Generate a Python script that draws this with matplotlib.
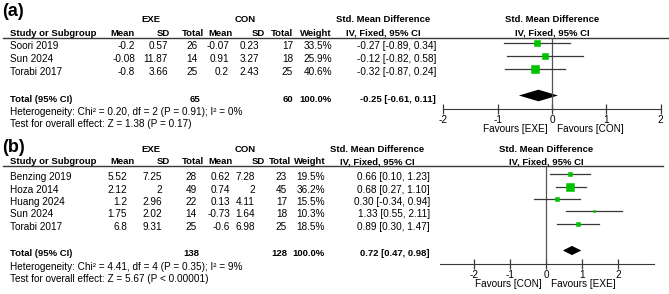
import numpy as np
import matplotlib
matplotlib.use("Agg")
import matplotlib.pyplot as plt
from matplotlib.patches import Polygon

plt.rcParams.update({"font.family": ["Liberation Sans", "DejaVu Sans"], "font.size": 7.2,
                     "axes.unicode_minus": False})

W, H = 669, 294
GREEN = "#00c400"
LINE = "#383838"
BOLD = dict(fontweight="bold", fontsize=6.8)

# ---- data: panel (a) ----
a_study = ["Soori 2019", "Sun 2024", "Torabi 2017"]
a_mean_e = ["-0.2", "-0.08", "-0.8"]
a_sd_e = ["0.57", "11.87", "3.66"]
a_n_e = [26, 14, 25]
a_mean_c = ["-0.07", "0.91", "0.2"]
a_sd_c = ["0.23", "3.27", "2.43"]
a_n_c = [17, 18, 25]
a_weight = [33.5, 25.9, 40.6]
a_smd = [-0.27, -0.12, -0.32]
a_lo = [-0.89, -0.82, -0.87]
a_hi = [0.34, 0.58, 0.24]
a_total = (65, 60, -0.25, -0.61, 0.11)
a_het = "Heterogeneity: Chi² = 0.20, df = 2 (P = 0.91); I² = 0%"
a_test = "Test for overall effect: Z = 1.38 (P = 0.17)"
a_fav = ("Favours [EXE]", "Favours [CON]")

# ---- data: panel (b) ----
b_study = ["Benzing 2019", "Hoza 2014", "Huang 2024", "Sun 2024", "Torabi 2017"]
b_mean_e = ["5.52", "2.12", "1.2", "1.75", "6.8"]
b_sd_e = ["7.25", "2", "2.96", "2.02", "9.31"]
b_n_e = [28, 49, 22, 14, 25]
b_mean_c = ["0.62", "0.74", "0.13", "-0.73", "-0.6"]
b_sd_c = ["7.28", "2", "4.11", "1.64", "6.98"]
b_n_c = [23, 45, 17, 18, 25]
b_weight = [19.5, 36.2, 15.5, 10.3, 18.5]
b_smd = [0.66, 0.68, 0.30, 1.33, 0.89]
b_lo = [0.10, 0.27, -0.34, 0.55, 0.30]
b_hi = [1.23, 1.10, 0.94, 2.11, 1.47]
b_total = (138, 128, 0.72, 0.47, 0.98)
b_het = "Heterogeneity: Chi² = 4.41, df = 4 (P = 0.35); I² = 9%"
b_test = "Test for overall effect: Z = 5.67 (P < 0.00001)"
b_fav = ("Favours [CON]", "Favours [EXE]")

fig = plt.figure(figsize=(W / 100, H / 100), dpi=100)
bg = fig.add_axes([0, 0, 1, 1])
bg.set_xlim(0, W); bg.set_ylim(H, 0); bg.axis("off")


def panel(label, top, study, me, sde, ne, mc, sdc, nc, wt, smd, lo, hi, total, het, test, fav,
          cols, hcols, zero_px, unit_px, xlim, rows, total_y, axis_y, msc, dia_h, line_right):
    y_lab, y_grp, y_hdr, y_line = top
    bg.text(2, y_lab, label, fontsize=13, fontweight="bold", va="center", ha="left")
    bg.text(151, y_grp, "EXE", ha="center", va="center", **BOLD)
    bg.text(245, y_grp, "CON", ha="center", va="center", **BOLD)
    bg.text(cols[7] - 53, y_grp, "Std. Mean Difference", ha="center", va="center", **BOLD)
    bg.text(cols[7] - 53, y_hdr, "IV, Fixed, 95% CI", ha="center", va="center", **BOLD)
    bg.text(zero_px, y_grp, "Std. Mean Difference", ha="center", va="center", **BOLD)
    bg.text(zero_px, y_hdr, "IV, Fixed, 95% CI", ha="center", va="center", **BOLD)
    bg.text(10, y_hdr, "Study or Subgroup", ha="left", va="center", **BOLD)
    for x, h in zip(hcols, ["Mean", "SD", "Total", "Mean", "SD", "Total", "Weight"]):
        bg.text(x, y_hdr, h, ha="right", va="center", **BOLD)
    bg.plot([3, line_right], [y_line, y_line], color=LINE, lw=1)

    for i, s in enumerate(study):
        y = rows[i]
        bg.text(10, y, s, ha="left", va="center")
        vals = [me[i], sde[i], str(ne[i]), mc[i], sdc[i], str(nc[i]), f"{wt[i]:.1f}%",
                f"{smd[i]:.2f} [{lo[i]:.2f}, {hi[i]:.2f}]"]
        for x, v in zip(cols, vals):
            bg.text(x, y, v, ha="right", va="center")

    n1, n2, est, tlo, thi = total
    bg.text(10, total_y, "Total (95% CI)", ha="left", va="center", **BOLD)
    bg.text(cols[2] + 2, total_y, str(n1), ha="right", va="center", **BOLD)
    bg.text(cols[5], total_y, str(n2), ha="right", va="center", **BOLD)
    bg.text(cols[6], total_y, "100.0%", ha="right", va="center", **BOLD)
    bg.text(cols[7], total_y, f"{est:.2f} [{tlo:.2f}, {thi:.2f}]", ha="right", va="center", **BOLD)
    bg.text(10, total_y + 13, het, ha="left", va="center")
    bg.text(10, total_y + 25, test, ha="left", va="center")

    # forest axes: x in SMD units, y in figure pixels
    left = zero_px + xlim[0] * unit_px
    width = (xlim[1] - xlim[0]) * unit_px
    ax = fig.add_axes([left / W, 1 - axis_y / H, width / W, (axis_y - y_line) / H])
    ax.set_xlim(*xlim); ax.set_ylim(axis_y, y_line)
    ax.patch.set_alpha(0)
    for sp in ["top", "right", "left"]:
        ax.spines[sp].set_visible(False)
    ax.spines["bottom"].set_color(LINE)
    ax.set_yticks([])
    ax.set_xticks([-2, -1, 0, 1, 2])
    ax.tick_params(axis="x", direction="inout", length=7, width=0.9, color=LINE, pad=1,
                   labelsize=7.2)
    ax.axvline(0, color="#555555", lw=0.9)
    for i in range(len(study)):
        y = rows[i] - 2.8
        ax.plot([lo[i], hi[i]], [y, y], color=LINE, lw=0.9)
        side = msc * (0.5 + 0.14 * wt[i])
        ax.plot(smd[i], y, marker="s", color=GREEN, ms=side * 0.85, mew=0.4, mec=GREEN,
                ls="none", zorder=3)
    yc = total_y - 3.5
    ax.add_patch(Polygon([(tlo, yc), (est, yc - dia_h), (thi, yc), (est, yc + dia_h)],
                         closed=True, color="black", lw=0))
    fy = axis_y + 20
    bg.text(zero_px - 4, fy, fav[0], ha="right", va="center")
    bg.text(zero_px + 5, fy, fav[1], ha="left", va="center")


panel("(a)", (11, 19, 33, 38), a_study, a_mean_e, a_sd_e, a_n_e, a_mean_c, a_sd_c, a_n_c,
      a_weight, a_smd, a_lo, a_hi, a_total, a_het, a_test, a_fav,
      cols=[135, 168, 198, 229, 259, 293, 332, 436],
      hcols=[135, 170, 204, 233, 265, 293, 332],
      zero_px=552, unit_px=54.3, xlim=(-2, 2), rows=[46, 59, 72], total_y=99, axis_y=109,
      msc=1.05, dia_h=5.8, line_right=669)

panel("(b)", (147, 150, 162, 166), b_study, b_mean_e, b_sd_e, b_n_e, b_mean_c, b_sd_c, b_n_c,
      b_weight, b_smd, b_lo, b_hi, b_total, b_het, b_test, b_fav,
      cols=[127, 162, 197, 230, 255, 287, 325, 430],
      hcols=[135, 170, 204, 233, 265, 291, 326],
      zero_px=546, unit_px=36, xlim=(-2.95, 3.0), rows=[177, 190, 202, 214, 227],
      total_y=254, axis_y=264, msc=1.2, dia_h=4.6, line_right=663)

fig.savefig("out.png", dpi=100)
